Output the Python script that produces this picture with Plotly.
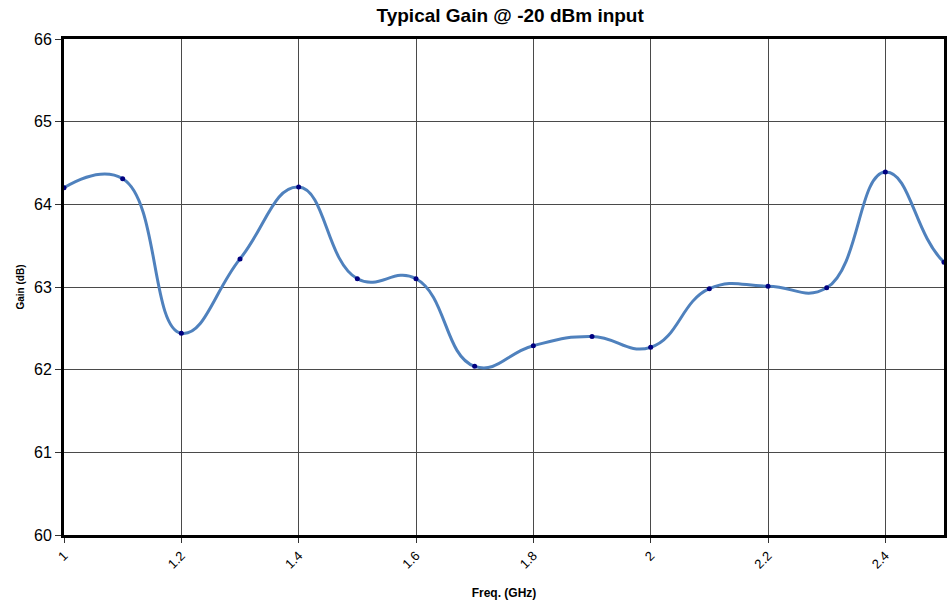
import plotly.graph_objects as go

freq_ghz = [1.0, 1.1, 1.2, 1.3, 1.4, 1.5, 1.6, 1.7, 1.8, 1.9, 2.0, 2.1, 2.2, 2.3, 2.4, 2.5, 2.6]
gain_db = [64.20, 64.31, 62.44, 63.34, 64.21, 63.10, 63.10, 62.04, 62.29, 62.40, 62.27, 62.98, 63.01, 62.99, 64.39, 63.30, 62.90]
x_ticks = [1, 1.2, 1.4, 1.6, 1.8, 2, 2.2, 2.4]
x_tick_labels = ["1", "1.2", "1.4", "1.6", "1.8", "2", "2.2", "2.4"]
y_ticks = [60, 61, 62, 63, 64, 65, 66]

font_family = "Liberation Sans, Arial, sans-serif"

fig = go.Figure()
fig.add_trace(go.Scatter(
    x=freq_ghz, y=gain_db,
    mode="lines+markers",
    line=dict(color="#4F81BD", width=3, shape="spline", smoothing=1.3),
    marker=dict(color="#000080", size=5),
    showlegend=False,
))

fig.update_layout(
    width=947, height=607,
    margin=dict(l=64, r=0, t=39, b=72),
    paper_bgcolor="white",
    plot_bgcolor="white",
    font=dict(family=font_family, color="black"),
    title=dict(text="<b>Typical Gain @ -20 dBm input</b>", xref="paper", x=0.507, xanchor="center",
               yref="container", y=0.975, yanchor="middle", font=dict(size=19, family=font_family)),
)

fig.update_xaxes(
    range=[1, 2.5],
    tickvals=x_ticks, ticktext=x_tick_labels,
    tickangle=-45,
    tickfont=dict(size=13),
    ticks="outside", ticklen=5, tickcolor="#333",
    showgrid=True, gridcolor="#4a4a4a", gridwidth=1,
    showline=True, linecolor="black", linewidth=3, mirror=True,
    zeroline=False,
    title=dict(text="<b>Freq. (GHz)</b>", font=dict(size=12), standoff=18),
)
fig.update_yaxes(
    range=[60, 66],
    tickvals=y_ticks,
    tickfont=dict(size=16),
    ticks="outside", ticklen=6, tickcolor="#333",
    showgrid=True, gridcolor="#4a4a4a", gridwidth=1,
    showline=True, linecolor="black", linewidth=3, mirror=True,
    zeroline=False,
    title=dict(text="<b>Gain (dB)</b>", font=dict(size=10), standoff=8),
)

fig.write_html("out.html", config={"displayModeBar": False},
               post_script="document.body.style.margin='0';document.body.style.overflow='hidden';")
